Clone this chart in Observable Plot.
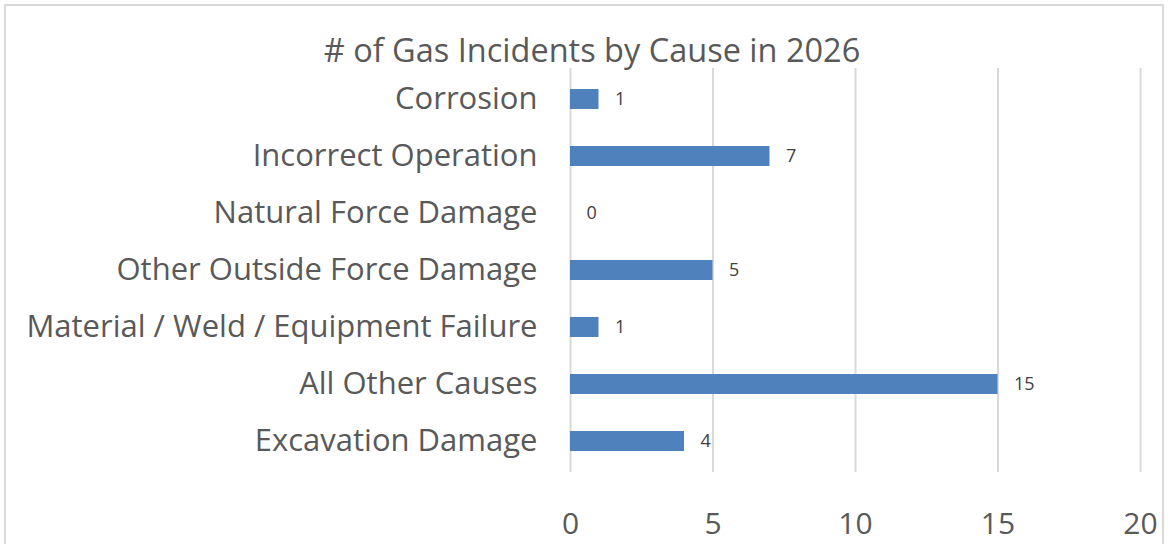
<!DOCTYPE html>
<html>
<head>
<meta charset="utf-8">
<script src="https://cdn.jsdelivr.net/npm/d3@7"></script>
<script src="https://cdn.jsdelivr.net/npm/@observablehq/plot@0.6"></script>
<style>
  html, body { margin: 0; padding: 0; background: #fff; overflow: hidden; }
  #wrap { position: relative; width: 1170px; height: 544px; overflow: hidden; font-family: "Open Sans", sans-serif; }
  #frame { position: absolute; left: 4px; top: 4px; width: 1160px; height: 600px; border: 2px solid #d9d9d9; box-sizing: border-box; }
  #title { position: absolute; left: 0; top: 28px; width: 1184px; text-align: center; font-size: 32.5px; color: #595959; line-height: 44px; }
  #chart { position: absolute; left: 0; top: 0; }
</style>
</head>
<body>
<div id="wrap">
  <div id="frame"></div>
  <div id="chart"></div>
  <div id="title"># of Gas Incidents by Cause in 2026</div>
</div>
<script>
const categories = [
  "Corrosion",
  "Incorrect Operation",
  "Natural Force Damage",
  "Other Outside Force Damage",
  "Material / Weld / Equipment Failure",
  "All Other Causes",
  "Excavation Damage"
];
const counts = [1, 7, 0, 5, 1, 15, 4];
const xTicks = [0, 5, 10, 15, 20];

const data = categories.map((c, i) => ({cause: c, count: counts[i]}));

const chart = Plot.plot({
  width: 1170,
  height: 544,
  marginLeft: 570,
  marginRight: 30,
  marginTop: 68,
  marginBottom: 72,
  style: {fontFamily: "Open Sans, sans-serif", color: "#595959", background: "transparent", overflow: "visible"},
  x: {domain: [0, 20]},
  y: {domain: categories, paddingInner: 0.65, paddingOuter: 0.325, label: null},
  marks: [
    Plot.gridX(xTicks, {stroke: "#d9d9d9", strokeOpacity: 1, strokeWidth: 2}),
    Plot.barX(data, {x: "count", y: "cause", fill: "#4f81bd"}),
    Plot.text(data, {x: "count", y: "cause", text: d => String(d.count), dx: 16, textAnchor: "start", fontSize: 18, fill: "#404040"}),
    Plot.axisY({tickSize: 0, tickPadding: 33, fontSize: 31, label: null}),
    Plot.axisX({ticks: xTicks, tickSize: 0, tickPadding: 40, fontSize: 30, label: null})
  ]
});
document.getElementById("chart").appendChild(chart);
</script>
</body>
</html>
